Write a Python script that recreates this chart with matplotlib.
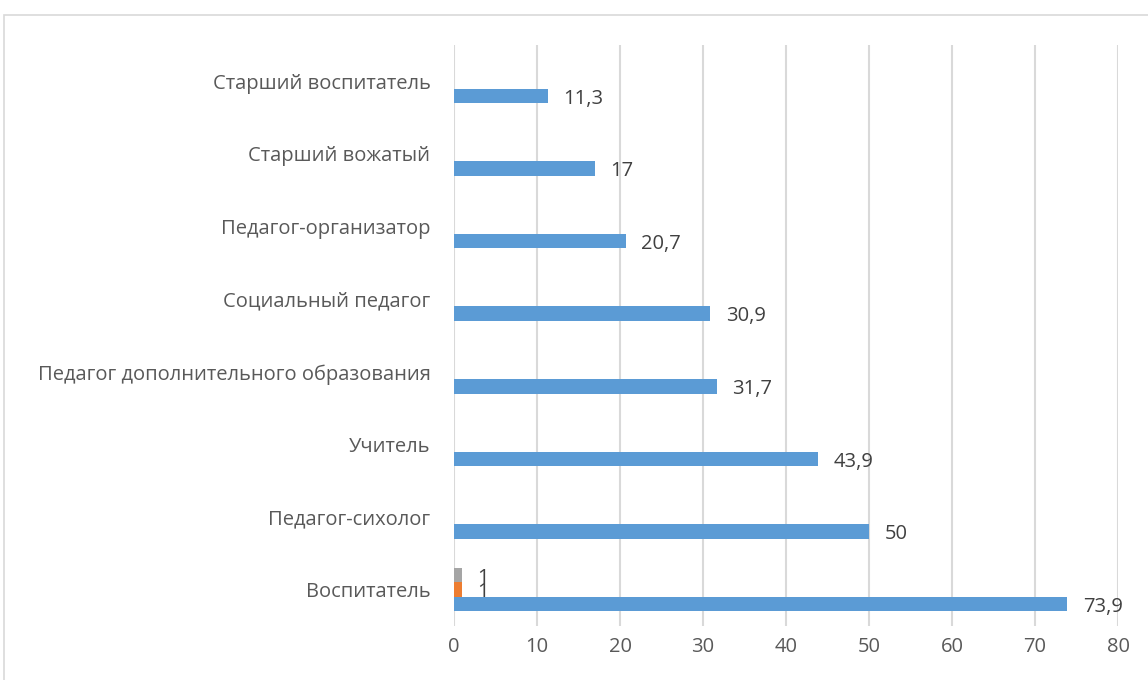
import numpy as np
import matplotlib
matplotlib.use("Agg")
import matplotlib.pyplot as plt
from matplotlib.patches import Rectangle

categories = ["Воспитатель", "Педагог-сихолог", "Учитель",
              "Педагог дополнительного образования", "Социальный педагог",
              "Педагог-организатор", "Старший вожатый", "Старший воспитатель"]
series_blue = [73.9, 50, 43.9, 31.7, 30.9, 20.7, 17, 11.3]
series_orange = [1, np.nan, np.nan, np.nan, np.nan, np.nan, np.nan, np.nan]
series_gray = [1, np.nan, np.nan, np.nan, np.nan, np.nan, np.nan, np.nan]
x_ticks = [0, 10, 20, 30, 40, 50, 60, 70, 80]

plt.rcParams['font.family'] = ['Open Sans', 'DejaVu Sans']

fig = plt.figure(figsize=(11.48, 6.8), dpi=100)
# outer chart border (light gray)
fig.patches.append(Rectangle((4 / 1148, -0.1), 1.2, 1 - 15 / 680 + 0.1,
                             transform=fig.transFigure, fill=False,
                             edgecolor="#D9D9D9", linewidth=1.2))

ax = fig.add_axes([454 / 1148, 1 - 626 / 680, (1118 - 454) / 1148, (626 - 45) / 680])

y = np.arange(len(categories))
h = 0.2
bars = [
    (series_blue, y - h, "#5B9BD5"),
    (series_orange, y, "#ED7D31"),
    (series_gray, y + h, "#A5A5A5"),
]
for vals, pos, col in bars:
    ax.barh(pos, vals, height=h, color=col, zorder=3)
    for v, p in zip(vals, pos):
        if not np.isnan(v):
            txt = str(v).replace(".", ",")
            if txt.endswith(",0"):
                txt = txt[:-2]
            ax.annotate(txt, (v, p), xytext=(11, -2), textcoords="offset points",
                        ha="left", va="center", fontsize=14.5, color="#404040")

ax.set_xlim(0, 80)
ax.set_ylim(-0.5, len(categories) - 0.5)
ax.set_xticks(x_ticks)
ax.set_yticks(y)
ax.set_yticklabels(categories)
ax.tick_params(axis="both", length=0, labelsize=14.5, labelcolor="#595959")
ax.tick_params(axis="y", pad=17)
ax.tick_params(axis="x", pad=8)
ax.grid(axis="x", color="#D9D9D9", linewidth=1.5, zorder=0)
for s in ax.spines.values():
    s.set_visible(False)

fig.savefig("out.png", dpi=100)
